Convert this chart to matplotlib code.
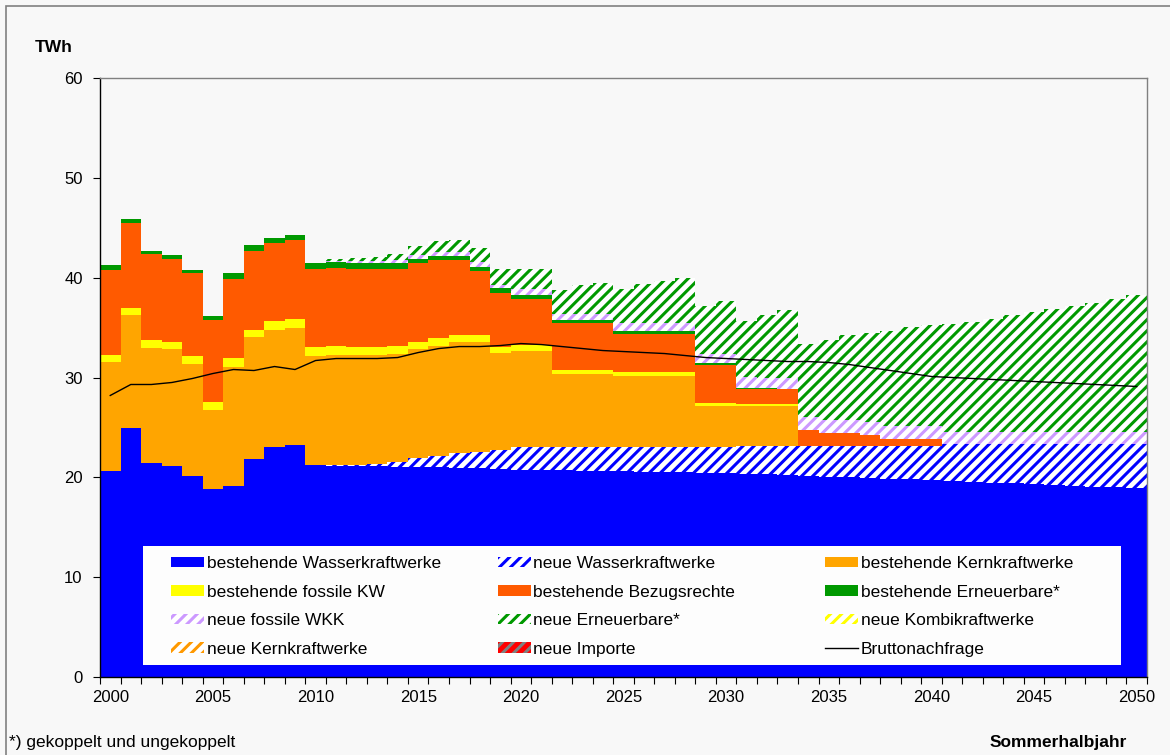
import matplotlib
matplotlib.use('Agg')
import matplotlib.pyplot as plt
import numpy as np
from matplotlib.patches import Rectangle

plt.rcParams['font.family'] = ['Liberation Sans', 'DejaVu Sans']
plt.rcParams['hatch.linewidth'] = 2.2

years = np.arange(2000, 2051)

# TWh per year, Sommerhalbjahr
hydro_exist = [20.6, 24.9, 21.4, 21.1, 20.1, 18.8, 19.1, 21.8, 23.0, 23.2, 21.2,
               21.1, 21.1, 21.1, 21.0, 21.0, 21.0, 20.9, 20.9, 20.8, 20.7,
               20.7, 20.7, 20.6, 20.6, 20.6, 20.5, 20.5, 20.5, 20.4, 20.4,
               20.3, 20.3, 20.2, 20.1, 20.0, 20.0, 19.9, 19.8, 19.8, 19.7,
               19.6, 19.5, 19.4, 19.4, 19.3, 19.2, 19.1, 19.0, 19.0, 18.9]
hydro_new = [0] * 11 + \
            [0.1, 0.15, 0.2, 0.5, 0.9, 1.1, 1.5, 1.6, 1.9, 2.3,
             2.3, 2.3, 2.4, 2.4, 2.4, 2.5, 2.5, 2.5, 2.6, 2.6,
             2.8, 2.8, 2.9, 3.0, 3.1, 3.1, 3.2, 3.3, 3.3, 3.4,
             3.7, 3.8, 3.9, 3.9, 4.0, 4.1, 4.2, 4.3, 4.3, 4.4]
nuclear_exist = [11.0, 11.4, 11.6, 11.8, 11.3, 7.9, 12.0, 12.3, 11.8, 11.8, 11.0,
                 11.1, 11.05, 11.0, 10.9, 11.0, 11.1, 11.2, 11.1, 9.8, 9.7,
                 9.7, 7.4, 7.4, 7.4, 7.2, 7.2, 7.2, 7.2, 4.1, 4.1,
                 4.0, 4.0, 4.0] + [0] * 17
fossil_exist = [0.7, 0.7, 0.8, 0.7, 0.8, 0.8, 0.9, 0.7, 0.9, 0.9, 0.9,
                0.9, 0.8, 0.8, 0.8, 0.7, 0.8, 0.7, 0.7, 0.6, 0.6,
                0.6, 0.4, 0.4, 0.4, 0.4, 0.4, 0.4, 0.4, 0.3, 0.3,
                0.2, 0.2, 0.2] + [0] * 17
bezug = [8.5, 8.5, 8.6, 8.3, 8.3, 8.3, 7.9, 7.9, 7.8, 7.9, 7.8,
         7.8, 7.8, 7.8, 7.7, 7.9, 7.8, 7.5, 6.4, 5.4, 4.6,
         4.6, 4.7, 4.7, 4.7, 3.8, 3.8, 3.8, 3.8, 3.9, 3.9,
         1.5, 1.5, 1.5, 1.6, 1.3, 1.3, 1.1, 0.7, 0.7, 0.7] + [0] * 10
renew_exist = [0.5, 0.4, 0.3, 0.4, 0.3, 0.4, 0.6, 0.6, 0.5, 0.5, 0.6,
               0.6, 0.6, 0.6, 0.6, 0.4, 0.4, 0.4, 0.4, 0.5, 0.4,
               0.4, 0.3, 0.3, 0.3, 0.3, 0.3, 0.3, 0.3, 0.2, 0.2,
               0.15, 0.1] + [0] * 18
wkk_new = [0] * 11 + \
          [0.1, 0.2, 0.2, 0.3, 0.4, 0.4, 0.4, 0.5, 0.3, 0.6,
           0.6, 0.6, 0.6, 0.6, 0.8, 0.8, 0.8, 0.8, 0.9, 0.9,
           1.1, 1.1, 1.1, 1.3, 1.3, 1.3, 1.3, 1.3, 1.3, 1.3,
           1.2, 1.2, 1.2, 1.2, 1.2, 1.2, 1.2, 1.2, 1.2, 1.2]
renew_new = [0] * 11 + \
            [0.2, 0.3, 0.4, 0.6, 0.9, 1.1, 1.2, 1.35, 1.6, 2.0,
             2.0, 2.4, 2.9, 3.1, 3.4, 3.9, 4.2, 4.5, 4.8, 5.3,
             5.65, 6.3, 6.9, 7.4, 8.1, 8.6, 9.0, 9.6, 10.0, 10.2,
             10.9, 11.1, 11.4, 11.8, 12.1, 12.4, 12.7, 13.0, 13.4, 13.8]
kombi_new = [0] * 51
nuclear_new = [0] * 51
imports_new = [0] * 51
demand = [28.2, 29.3, 29.3, 29.5, 29.9, 30.4, 30.8, 30.7, 31.1, 30.8, 31.7,
          31.9, 31.9, 31.9, 32.0, 32.5, 32.9, 33.1, 33.1, 33.2, 33.4,
          33.3, 33.1, 32.9, 32.7, 32.6, 32.5, 32.4, 32.2, 32.0, 31.9,
          31.8, 31.7, 31.6, 31.6, 31.5, 31.3, 31.0, 30.7, 30.4, 30.1,
          30.0, 29.9, 29.8, 29.7, 29.6, 29.5, 29.4, 29.3, 29.2, 29.1]

# label, values, face colour, hatch colour (None = solid)
layers = [
    ('bestehende Wasserkraftwerke', hydro_exist, '#0000FF', None),
    ('neue Wasserkraftwerke', hydro_new, 'white', '#0000FF'),
    ('bestehende Kernkraftwerke', nuclear_exist, '#FFA500', None),
    ('bestehende fossile KW', fossil_exist, '#FFFF00', None),
    ('bestehende Bezugsrechte', bezug, '#FF5A00', None),
    ('bestehende Erneuerbare*', renew_exist, '#009900', None),
    ('neue fossile WKK', wkk_new, 'white', '#CC99FF'),
    ('neue Erneuerbare*', renew_new, 'white', '#009900'),
    ('neue Kombikraftwerke', kombi_new, 'white', '#FFFF00'),
    ('neue Kernkraftwerke', nuclear_new, 'white', '#FF9900'),
    ('neue Importe', imports_new, '#FF0000', '#808080'),
]

bg = '#F8F8F8'
fig = plt.figure(figsize=(11.7, 7.55), dpi=100, facecolor=bg)
ax = fig.add_axes([100 / 1170, 78 / 755, 1047 / 1170, 599 / 755])
ax.set_facecolor(bg)

bottom = np.zeros(len(years))
handles = []
labels = []
for label, vals, face, hatchcol in layers:
    v = np.array(vals, dtype=float)
    if hatchcol is None:
        b = ax.bar(years, v, width=1.0, bottom=bottom, color=face,
                   linewidth=0, antialiased=False)
    else:
        b = ax.bar(years, v, width=1.0, bottom=bottom, facecolor=face,
                   edgecolor=hatchcol, hatch='///', linewidth=0, antialiased=False)
    bottom += v
    handles.append(b)
    labels.append(label)

line, = ax.plot(years, demand, color='black', lw=1.0, zorder=3)
handles.append(line)
labels.append('Bruttonachfrage')

ax.set_xlim(1999.5, 2050.5)
ax.set_ylim(0, 60)
ax.set_yticks(range(0, 61, 10))
ax.set_xticks(range(2000, 2051, 5))
ax.set_xticks(np.arange(1999.5, 2051, 1), minor=True)
ax.tick_params(axis='x', which='major', length=0, pad=9, labelsize=12)
ax.tick_params(axis='x', which='minor', length=5, width=0.8, direction='out')
ax.tick_params(axis='y', length=5, width=0.8, direction='out', pad=7.5, labelsize=12)
for s in ['left', 'bottom']:
    ax.spines[s].set_color('black')
    ax.spines[s].set_linewidth(1.0)
for s in ['top', 'right']:
    ax.spines[s].set_color('#808080')
    ax.spines[s].set_linewidth(1.0)

# legend background box
ax.add_patch(Rectangle((0.041, 0.020), 0.934, 0.199, transform=ax.transAxes,
                       facecolor='#FDFDFD', edgecolor='none', zorder=4))
cols = [[0, 3, 6, 9], [1, 4, 7, 10], [2, 5, 8, 11]]
xs = [0.0678, 0.380, 0.6925]
for i, (idx, x) in enumerate(zip(cols, xs)):
    leg = ax.legend([handles[j] for j in idx], [labels[j] for j in idx],
                    loc='upper left', bbox_to_anchor=(x, 0.202), frameon=False,
                    borderpad=0, borderaxespad=0, handlelength=1.9,
                    handleheight=0.55, handletextpad=0.15, labelspacing=0.78,
                    fontsize=12.5)
    leg.set_zorder(5)
    if i < 2:
        ax.add_artist(leg)

fig.text(35 / 1170, 1 - 47 / 755, 'TWh', fontsize=12.5, fontweight='bold',
         ha='left', va='center')
fig.text(9 / 1170, 1 - 742 / 755, '*) gekoppelt und ungekoppelt', fontsize=12.5,
         ha='left', va='center')
fig.text(1127 / 1170, 1 - 742 / 755, 'Sommerhalbjahr', fontsize=12.5,
         fontweight='bold', ha='right', va='center')

# outer frame (left and top visible)
fig.add_artist(Rectangle((6 / 1170, -0.05), 1.2, 1.05 - 6 / 755,
                         transform=fig.transFigure, fill=False,
                         edgecolor='#808080', linewidth=1.2))

fig.savefig('out.png', dpi=100, facecolor=bg)
